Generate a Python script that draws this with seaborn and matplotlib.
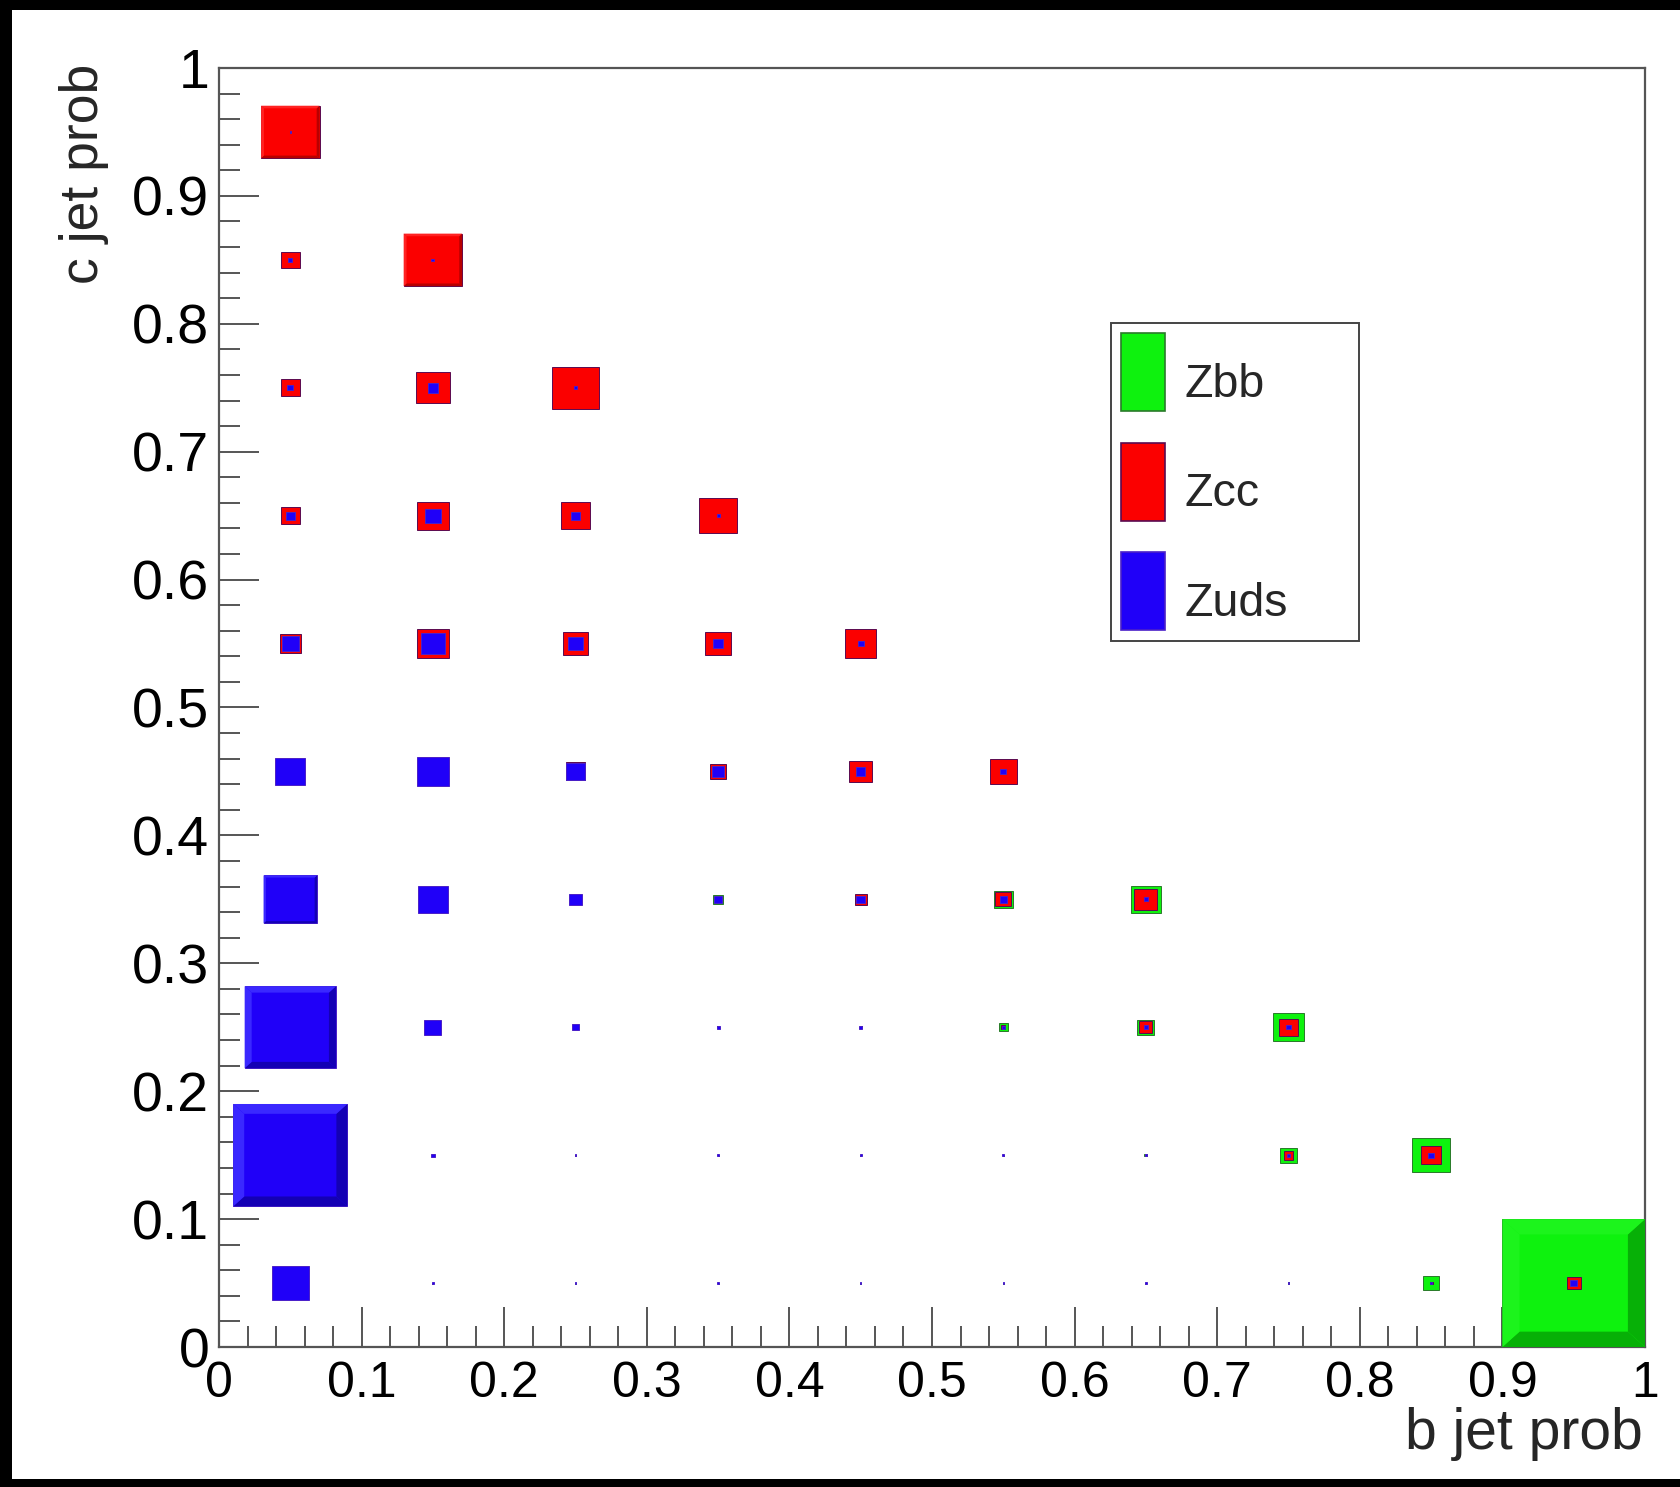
import numpy as np
import pandas as pd
import seaborn as sns
import matplotlib
matplotlib.use("Agg")
import matplotlib.pyplot as plt
from matplotlib.patches import Rectangle, Polygon, Patch
from matplotlib.ticker import MultipleLocator, FuncFormatter
from matplotlib.transforms import ScaledTranslation

# Bin centres of the 10x10 grid (b jet prob along x, c jet prob along y)
bin_centers = [0.05, 0.15, 0.25, 0.35, 0.45, 0.55, 0.65, 0.75, 0.85, 0.95]
bin_width = 0.1

# Relative cell contents (box side as a fraction of the bin), one row per c bin,
# starting at c = 0.05; each row lists the b bins from b = 0.05 upwards.
zbb = [
    [0.005, 0.005, 0.008, 0.008, 0.008, 0.008, 0.008, 0.010, 0.11, 1.00],
    [0.004, 0.005, 0.005, 0.006, 0.006, 0.008, 0.020, 0.115, 0.27],
    [0.003, 0.005, 0.006, 0.010, 0.015, 0.060, 0.120, 0.22],
    [0.000, 0.004, 0.008, 0.070, 0.030, 0.130, 0.21],
    [0.000, 0.003, 0.005, 0.010, 0.020, 0.05],
    [0.000, 0.000, 0.004, 0.006, 0.010],
    [0.000, 0.000, 0.000, 0.005],
    [0.000, 0.000, 0.000],
    [0.000, 0.000],
    [0.000],
]
zcc = [
    [0.03, 0.008, 0.006, 0.006, 0.006, 0.006, 0.006, 0.006, 0.02, 0.10],
    [0.03, 0.015, 0.008, 0.008, 0.008, 0.008, 0.010, 0.07, 0.14],
    [0.05, 0.040, 0.020, 0.015, 0.015, 0.030, 0.090, 0.13],
    [0.08, 0.080, 0.050, 0.030, 0.085, 0.110, 0.16],
    [0.15, 0.180, 0.140, 0.115, 0.160, 0.19],
    [0.15, 0.220, 0.180, 0.180, 0.220],
    [0.13, 0.220, 0.210, 0.270],
    [0.13, 0.240, 0.330],
    [0.13, 0.410],
    [0.41],
]
zuds = [
    [0.26, 0.015, 0.010, 0.010, 0.010, 0.010, 0.010, 0.010, 0.015, 0.05],
    [0.80, 0.025, 0.012, 0.012, 0.012, 0.012, 0.015, 0.025, 0.04],
    [0.64, 0.120, 0.050, 0.020, 0.020, 0.025, 0.030, 0.03],
    [0.375, 0.210, 0.086, 0.055, 0.060, 0.050, 0.03],
    [0.21, 0.220, 0.130, 0.080, 0.065, 0.04],
    [0.12, 0.170, 0.100, 0.065, 0.040],
    [0.063, 0.110, 0.063, 0.020],
    [0.04, 0.075, 0.020],
    [0.03, 0.020],
    [0.01],
]

samples = ["Zbb", "Zcc", "Zuds"]
tables = {"Zbb": zbb, "Zcc": zcc, "Zuds": zuds}

fill = {"Zbb": "#0ef20e", "Zcc": "#fb0000", "Zuds": "#2000f8"}
dark = {"Zbb": "#07b007", "Zcc": "#b80000", "Zuds": "#1400b4"}
light = {"Zbb": "#1cf41c", "Zcc": "#ff2222", "Zuds": "#3a28ff"}
edge = {"Zbb": "#2a7a2a", "Zcc": "#5a0a50", "Zuds": "#4a20c8"}

# Long table of all cells
records = []
for name in samples:
    for j, row in enumerate(tables[name]):
        for i, v in enumerate(row):
            records.append({"sample": name, "b": bin_centers[i],
                            "c": bin_centers[j], "content": v})
df = pd.DataFrame(records)

sns.set_theme(style="white")
plt.rcParams["font.family"] = ["Liberation Sans", "DejaVu Sans"]

fig = plt.figure(figsize=(16.81, 14.87), dpi=100)
fig.patch.set_facecolor("black")
W, H = 1681, 1487
fig.add_artist(Rectangle((12 / W, 8 / H), 1 - 12 / W, 1 - 18 / H,
                         transform=fig.transFigure, facecolor="white",
                         edgecolor="none", zorder=-10))

ax = fig.add_axes([219 / W, 1 - 1347 / H, 1426 / W, 1279 / H])
ax.set_facecolor("white")
ax.set_xlim(0, 1)
ax.set_ylim(0, 1)


def draw_box(ax, xc, yc, v, name):
    """Box of side v*bin, with a raised 3D bevel like ROOT's BOX1 option."""
    hw = 0.5 * v * bin_width
    x0, x1 = xc - hw, xc + hw
    y0, y1 = yc - hw, yc + hw
    ax.add_patch(Rectangle((x0, y0), x1 - x0, y1 - y0, facecolor=fill[name],
                           edgecolor=edge[name], linewidth=0.7, zorder=3))
    bev = 0.12 * v * v * bin_width
    if bev > 0.0015:
        ax.add_patch(Polygon([(x0, y0), (x1, y0), (x1 - bev, y0 + bev),
                              (x0 + bev, y0 + bev)], closed=True,
                             facecolor=dark[name], edgecolor="none", zorder=4))
        ax.add_patch(Polygon([(x1, y0), (x1, y1), (x1 - bev, y1 - bev),
                              (x1 - bev, y0 + bev)], closed=True,
                             facecolor=dark[name], edgecolor="none", zorder=4))
        ax.add_patch(Polygon([(x0, y1), (x1, y1), (x1 - bev, y1 - bev),
                              (x0 + bev, y1 - bev)], closed=True,
                             facecolor=light[name], edgecolor="none", zorder=4))
        ax.add_patch(Polygon([(x0, y0), (x0, y1), (x0 + bev, y1 - bev),
                              (x0 + bev, y0 + bev)], closed=True,
                             facecolor=light[name], edgecolor="none", zorder=4))


for name in samples:
    sub = df[(df["sample"] == name) & (df["content"] > 0)]
    for _, r in sub.iterrows():
        draw_box(ax, r["b"], r["c"], r["content"], name)

# ROOT-like frame and ticks
axis_col = "#555555"
for s in ax.spines.values():
    s.set_color(axis_col)
    s.set_linewidth(1.6)
    s.set_visible(True)

ax.xaxis.set_major_locator(MultipleLocator(0.1))
ax.xaxis.set_minor_locator(MultipleLocator(0.02))
ax.yaxis.set_major_locator(MultipleLocator(0.1))
ax.yaxis.set_minor_locator(MultipleLocator(0.02))
fmt = FuncFormatter(lambda v, p: f"{v:.1f}".rstrip("0").rstrip(".") if v not in (0, 1) else f"{int(round(v))}")
ax.xaxis.set_major_formatter(fmt)
ax.yaxis.set_major_formatter(fmt)

ax.tick_params(which="both", direction="in", color=axis_col, width=1.4,
               top=False, right=False, bottom=True, left=True)
ax.tick_params(which="major", length=29, colors="#000000")
ax.tick_params(which="major", color=axis_col)
ax.tick_params(which="minor", length=15)
ax.tick_params(axis="x", which="major", pad=10, labelsize=36)
ax.tick_params(axis="y", which="major", pad=7, labelsize=40)

ax.set_xlabel("b jet prob", fontsize=41, ha="right", va="baseline")
ax.xaxis.set_label_coords((1643 - 219) / 1426, (1347 - 1449) / 1279)
ax.set_ylabel("c jet prob", fontsize=38.5, ha="right", va="baseline")
ax.yaxis.set_label_coords((98 - 219) / 1426, (1347 - 64) / 1279)

handles = [Patch(facecolor=fill[n], edgecolor=edge[n], linewidth=1.2) for n in samples]
leg = ax.legend(handles, samples, loc="upper left",
                bbox_to_anchor=((1111 - 219) / 1426, (1347 - 323) / 1279,
                                248 / 1426, 0),
                mode="expand", borderaxespad=0, fontsize=33.5,
                handlelength=0.95, handleheight=2.2, labelspacing=0.68,
                handletextpad=0.4, borderpad=0.22, fancybox=False,
                frameon=True, framealpha=1)
leg.get_frame().set_edgecolor("#444444")
leg.get_frame().set_linewidth(1.4)
# entry labels sit slightly below the centre of their colour swatches
shift = ScaledTranslation(0, -10 / 100, fig.dpi_scale_trans)
for t in leg.get_texts():
    t.set_transform(t.get_transform() + shift)

fig.savefig("out.png", dpi=100, facecolor=fig.get_facecolor())
